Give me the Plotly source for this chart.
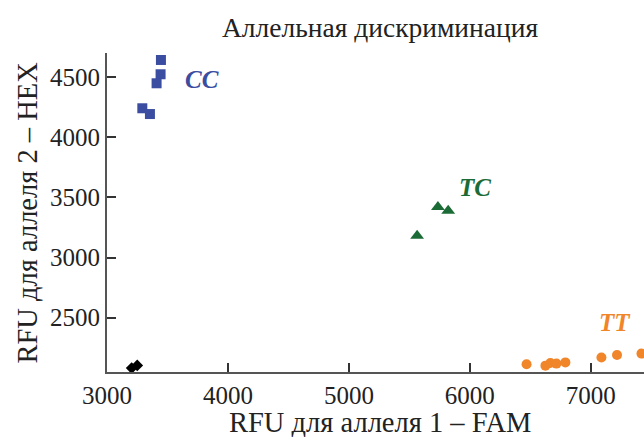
import plotly.graph_objects as go

# Data
cc_x = [3446, 3443, 3410, 3292, 3355]
cc_y = [4644, 4525, 4450, 4242, 4194]
tc_x = [5736, 5821, 5564]
tc_y = [3420, 3390, 3180]
tt_x = [6469, 6625, 6666, 6716, 6790, 7088, 7217, 7419]
tt_y = [2111, 2100, 2122, 2117, 2127, 2167, 2188, 2200]
ntc_x = [3204, 3250]
ntc_y = [2080, 2102]

labels = ["CC", "TC", "TT"]
label_x = [3785, 6041, 7198]
label_y = [4478, 3586, 2461]

x_ticks = [3000, 4000, 5000, 6000, 7000]
y_ticks = [2500, 3000, 3500, 4000, 4500]

title_text = "Аллельная дискриминация"
x_title = "RFU для аллеля 1 – FAM"
y_title = "RFU для аллеля 2 – HEX"

BLUE = "#3B4DA0"
GREEN = "#1B6B36"
ORANGE = "#F0852A"
colors = [BLUE, GREEN, ORANGE]
SERIF = "Liberation Serif"
TXT = "#222222"

fig = go.Figure()
fig.add_trace(go.Scatter(x=cc_x, y=cc_y, mode="markers", cliponaxis=False,
                         marker=dict(symbol="square", size=10, color=BLUE)))
fig.add_trace(go.Scatter(x=tc_x, y=tc_y, mode="markers", cliponaxis=False,
                         marker=dict(symbol="triangle-up", size=12, color=GREEN)))
fig.add_trace(go.Scatter(x=tt_x, y=tt_y, mode="markers", cliponaxis=False,
                         marker=dict(symbol="circle", size=10, color=ORANGE)))
fig.add_trace(go.Scatter(x=ntc_x, y=ntc_y, mode="markers", cliponaxis=False,
                         marker=dict(symbol="diamond", size=9, color="black")))

for t, lx, ly, c in zip(labels, label_x, label_y, colors):
    fig.add_annotation(x=lx, y=ly, text="<b><i>" + t + "</i></b>", showarrow=False,
                       font=dict(family=SERIF, size=25, color=c))

# title and axis titles placed relative to the plot area
fig.add_annotation(xref="paper", yref="paper", x=0.508, y=1, yshift=26, showarrow=False,
                   xanchor="center", yanchor="middle", text=title_text,
                   font=dict(family=SERIF, size=27.5, color=TXT))
fig.add_annotation(xref="paper", yref="paper", x=0.508, y=0, yshift=-50, showarrow=False,
                   xanchor="center", yanchor="middle", text=x_title,
                   font=dict(family=SERIF, size=28.5, color=TXT))
fig.add_annotation(xref="paper", yref="paper", x=0, y=0.5, xshift=-80, showarrow=False,
                   xanchor="center", yanchor="middle", text=y_title, textangle=-90,
                   font=dict(family=SERIF, size=28.5, color=TXT))

axis_common = dict(showgrid=False, zeroline=False, showline=True, linecolor="#555555",
                   linewidth=2, ticks="inside", ticklen=9, tickwidth=1.5, tickcolor="#333333",
                   automargin=False,
                   tickfont=dict(family=SERIF, size=25, color=TXT))

fig.update_layout(
    width=644, height=437,
    margin=dict(l=107, r=0, t=53, b=65, autoexpand=False),
    paper_bgcolor="white", plot_bgcolor="white",
    showlegend=False,
    xaxis=dict(range=[3000, 7440], tickvals=x_ticks, ticktext=[str(v) for v in x_ticks],
               **axis_common),
    yaxis=dict(range=[2047, 4702], tickvals=y_ticks, ticktext=[str(v) for v in y_ticks],
               **axis_common),
)

# remove the default page margin so the figure fills the window exactly
fig.write_html("out.html", config={"displayModeBar": False},
               post_script="document.body.style.margin='0';document.body.style.overflow='hidden';")
